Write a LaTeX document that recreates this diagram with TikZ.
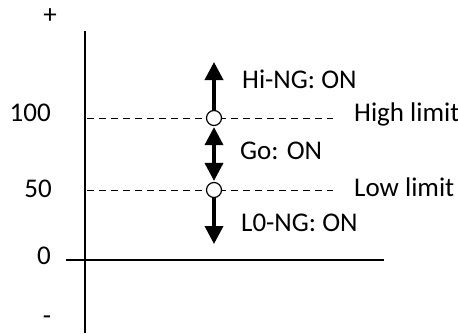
\documentclass[tikz,border=0pt]{standalone}
\usepackage{fontspec}
\setmainfont{Carlito}
\usetikzlibrary{arrows.meta}
\tikzset{lbl/.style={inner sep=0pt,font=\fontsize{27}{32}\selectfont}}
\tikzset{bigarrow/.style={line width=3.6pt,-{Triangle[width=18pt,length=18pt]}}}

\begin{document}
\begin{tikzpicture}[x=1pt,y=-1pt,limitline/.style={dashed,dash pattern=on 7pt off 5pt,line width=0.9pt}]
        \useasboundingbox (0,0) rectangle (458,333);
        % axes
        \coordinate (ytop) at (85,31);
        \coordinate (ybot) at (85,333);
        \coordinate (xleft) at (66,260);
        \coordinate (xright) at (384,260);
        \draw[line width=1.2pt] (ytop) -- (ybot);
        \draw[line width=1.2pt] (xleft) -- (xright);
        \node[lbl] (plus) at (50,16) {+};
        \node[lbl] (minus) at (47,320) {-};
        \node[lbl,anchor=east] (v100) at (51,113) {100};
        \node[lbl,anchor=east] (v50) at (52,189) {50};
        \node[lbl,anchor=east] (v0) at (51,256) {0};
        % limits
        \coordinate (hstart) at (87,118);
        \coordinate (hend) at (333,118);
        \coordinate (lstart) at (87,190);
        \coordinate (lend) at (333,190);
        \draw[limitline] (hstart) -- (hend);
        \draw[limitline] (lstart) -- (lend);
        \node[lbl,anchor=west] (hilim) at (354,114) {High limit};
        \node[lbl,anchor=west] (lolim) at (354,187) {Low limit};
        \node[circle,draw,fill=white,line width=1.2pt,minimum size=15pt,inner sep=0pt] (hi) at (214,118) {};
        \node[circle,draw,fill=white,line width=1.2pt,minimum size=15pt,inner sep=0pt] (lo) at (214,190) {};
        % outputs
        \coordinate (uptip) at (214,62);
        \coordinate (downtip) at (214,244);
        \draw[bigarrow] (hi.north) -- (uptip);
        \draw[bigarrow,{Triangle[width=18pt,length=18pt]}-{Triangle[width=18pt,length=18pt]}] ([yshift=-1pt]hi.south) -- ([yshift=1pt]lo.north);
        \draw[bigarrow] (lo.south) -- (downtip);
        \node[lbl,anchor=west] (hing) at (242,79) {Hi-NG: ON};
        \node[lbl,anchor=west] (go) at (240,151) {Go: ON};
        \node[lbl,anchor=west] (long) at (241,223) {L0-NG: ON};
\end{tikzpicture}
\end{document}
